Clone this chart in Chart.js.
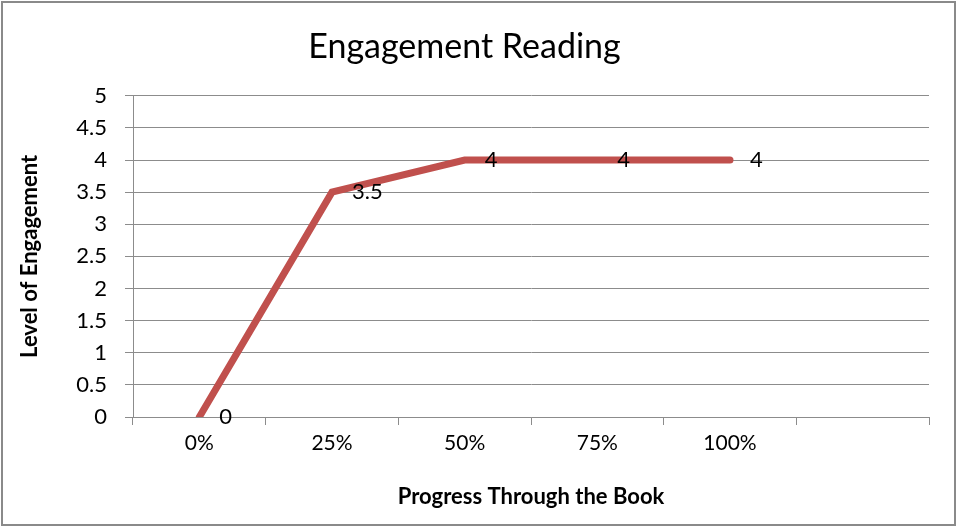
<!DOCTYPE html>
<html>
<head>
<meta charset="utf-8">
<script src="https://cdn.jsdelivr.net/npm/chart.js@4"></script>
<style>
  html, body { margin: 0; padding: 0; background: #fff; }
  #wrap { width: 957px; height: 528px; }
</style>
</head>
<body>
<div id="wrap"><canvas id="chart" width="957" height="528"></canvas></div>
<script>
const categories = ["0%", "25%", "50%", "75%", "100%", ""];
const engagement = [0, 3.5, 4, 4, 4, null];
const yTicks = { min: 0, max: 5, step: 0.5 };

const FONT = "Lato, 'DejaVu Sans', sans-serif";
const GRID = "#8c8c8c";

// frame round the whole picture
const framePlugin = {
  id: "frame",
  beforeDraw(chart) {
    const ctx = chart.ctx;
    ctx.save();
    ctx.fillStyle = "#fff";
    ctx.fillRect(0, 0, chart.width, chart.height);
    ctx.strokeStyle = "#8a8a8a";
    ctx.lineWidth = 2;
    ctx.strokeRect(2, 2, 953, 523);
    ctx.restore();
  },
};

// value labels to the right of each point
const valueLabels = {
  id: "valueLabels",
  afterDatasetsDraw(chart) {
    const ctx = chart.ctx;
    const meta = chart.getDatasetMeta(0);
    ctx.save();
    ctx.font = `22px ${FONT}`;
    ctx.fillStyle = "#000";
    ctx.textAlign = "left";
    ctx.textBaseline = "middle";
    meta.data.forEach((pt, i) => {
      const v = engagement[i];
      if (v === null) return;
      ctx.fillText(String(v), pt.x + 20, pt.y);
    });
    ctx.restore();
  },
};

new Chart(document.getElementById("chart"), {
  type: "line",
  data: {
    labels: categories,
    datasets: [{
      label: "Engagement",
      data: engagement,
      borderColor: "#C0504D",
      borderWidth: 7,
      borderCapStyle: "round",
      borderJoinStyle: "miter",
      tension: 0,
      pointRadius: 0,
      pointHoverRadius: 0,
    }],
  },
  options: {
    responsive: false,
    animation: false,
    events: [],
    layout: { padding: { left: 0, right: 28, top: 0, bottom: 0 } },
    plugins: {
      legend: { display: false },
      tooltip: { enabled: false },
      title: {
        display: true,
        text: "Engagement Reading",
        color: "#000",
        font: { family: FONT, size: 34, weight: "normal", lineHeight: 1.2 },
        padding: { top: 27, bottom: 28 },
      },
    },
    scales: {
      x: {
        type: "category",
        offset: true,
        grid: { display: true, offset: true, drawOnChartArea: false, drawTicks: true, tickLength: 8, color: GRID },
        border: { display: true, color: GRID, width: 1 },
        ticks: { color: "#000", font: { family: FONT, size: 21 }, padding: 6, maxRotation: 0, autoSkip: false },
        title: {
          display: true,
          text: "Progress Through the Book",
          color: "#000",
          font: { family: FONT, size: 22, weight: "bold", lineHeight: 1.2 },
          padding: { top: 4, bottom: 18 },
        },
        afterFit(scale) { scale.height = 111; },
      },
      y: {
        min: yTicks.min,
        max: yTicks.max,
        grid: { color: GRID, drawTicks: true, tickLength: 8 },
        border: { display: true, color: GRID, width: 1 },
        ticks: {
          stepSize: yTicks.step,
          color: "#000",
          font: { family: FONT, size: 22 },
          padding: 18,
          callback: v => String(v),
        },
        title: {
          display: true,
          text: "Level of Engagement",
          color: "#000",
          font: { family: FONT, size: 22, weight: "bold", lineHeight: 1.2 },
          padding: { top: 17, bottom: 0 },
        },
        afterFit(scale) { scale.width = 133; },
      },
    },
  },
  plugins: [framePlugin, valueLabels],
});
</script>
</body>
</html>
